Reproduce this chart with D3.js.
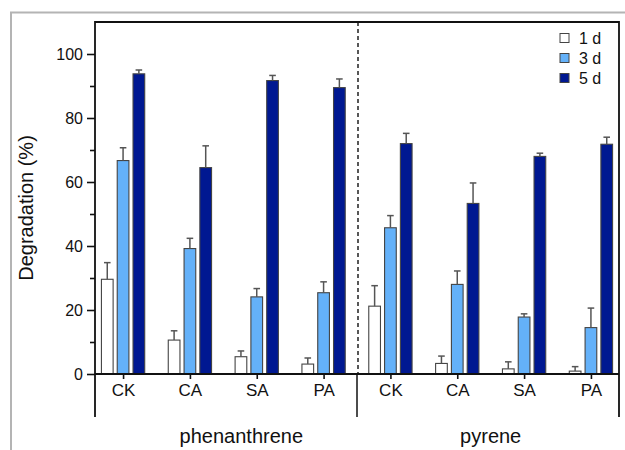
<!DOCTYPE html>
<html>
<head>
<meta charset="utf-8">
<script src="https://cdn.jsdelivr.net/npm/d3@7"></script>
<style>
  html, body { margin: 0; padding: 0; background: #fff; }
  svg { display: block; font-family: "Liberation Sans", Arial, sans-serif; }
</style>
</head>
<body>
<svg id="chart" width="625" height="450"></svg>
<script>
// ---- data ----
const compounds = ["phenanthrene", "pyrene"];
const treatments = ["CK", "CA", "SA", "PA"];
const series = ["1 d", "3 d", "5 d"];
const colors = ["#ffffff", "#64b1f9", "#001891"];
// mean values [compound][treatment] per series
const day1 = [[29.6, 10.6, 5.4, 3.1], [21.2, 3.3, 1.6, 0.9]];
const day3 = [[66.7, 39.2, 24.1, 25.4], [45.7, 28.0, 17.8, 14.5]];
const day5 = [[93.8, 64.5, 91.7, 89.5], [72.0, 53.3, 68.0, 71.8]];
// standard deviations (upper error bar length)
const err1 = [[5.2, 2.9, 1.8, 1.9], [6.4, 2.3, 2.2, 1.4]];
const err3 = [[4.0, 3.2, 2.6, 3.4], [3.8, 4.2, 1.0, 6.1]];
const err5 = [[1.2, 6.8, 1.6, 2.7], [3.2, 6.4, 1.0, 2.2]];
const yTicks = [0, 20, 40, 60, 80, 100];
const yMinorTicks = [10, 30, 50, 70, 90];

const means = [day1, day3, day5];
const errs = [err1, err3, err5];

const rows = [];
compounds.forEach((c, ci) => treatments.forEach((t, ti) => {
  series.forEach((s, si) => rows.push({
    key: c + "|" + t, compound: c, treatment: t, series: s, si: si,
    value: means[si][ci][ti], err: errs[si][ci][ti]
  }));
}));
const groupKeys = [];
compounds.forEach(c => treatments.forEach(t => groupKeys.push(c + "|" + t)));

// ---- layout ----
const svg = d3.select("#chart");
const L = 95, R = 619, T = 22, B = 374, Bsep = 417;

const x = d3.scalePoint().domain(groupKeys).range([L, R]).padding(0.42);
const xs = d3.scaleBand().domain(series).range([-23.7, 23.7]).paddingInner(0.26).paddingOuter(0.13);
const y = d3.scaleLinear().domain([0, 110]).range([B, T]);

// outer gray frame
svg.append("path")
  .attr("d", `M11,450 V12.5 H625`)
  .attr("fill", "none").attr("stroke", "#b4b4b4").attr("stroke-width", 2);

// bars
const g = svg.append("g");
g.selectAll("rect.bar").data(rows).join("rect")
  .attr("class", "bar")
  .attr("x", d => x(d.key) + xs(d.series))
  .attr("width", xs.bandwidth())
  .attr("y", d => y(d.value))
  .attr("height", d => y(0) - y(d.value))
  .attr("fill", d => colors[d.si])
  .attr("stroke", "#444").attr("stroke-width", 1.1);

// error bars
const eb = g.selectAll("g.err").data(rows).join("g").attr("class", "err")
  .attr("stroke", "#555").attr("stroke-width", 1.5);
eb.append("line")
  .attr("x1", d => x(d.key) + xs(d.series) + xs.bandwidth() / 2)
  .attr("x2", d => x(d.key) + xs(d.series) + xs.bandwidth() / 2)
  .attr("y1", d => y(d.value))
  .attr("y2", d => y(d.value + d.err));
eb.append("line")
  .attr("x1", d => x(d.key) + xs(d.series) + xs.bandwidth() / 2 - 3.3)
  .attr("x2", d => x(d.key) + xs(d.series) + xs.bandwidth() / 2 + 3.3)
  .attr("y1", d => y(d.value + d.err))
  .attr("y2", d => y(d.value + d.err));

// dashed separator
const sepX = (x(compounds[0] + "|" + treatments[3]) + x(compounds[1] + "|" + treatments[0])) / 2 + 1;
svg.append("line")
  .attr("x1", sepX).attr("x2", sepX).attr("y1", T).attr("y2", B)
  .attr("stroke", "#111").attr("stroke-width", 1.4).attr("stroke-dasharray", "4,3");

// y axis
const yAxis = svg.append("g").attr("transform", `translate(${L},0)`)
  .call(d3.axisLeft(y).tickValues(yTicks).tickSize(8).tickPadding(4));
yAxis.select(".domain").remove();
yAxis.selectAll("line").attr("stroke", "#111").attr("stroke-width", 1.6);
yAxis.selectAll("text").attr("font-size", 16).attr("fill", "#111");
svg.append("g").attr("transform", `translate(${L},0)`)
  .call(d3.axisLeft(y).tickValues(yMinorTicks).tickSize(5).tickFormat(""))
  .call(a => a.select(".domain").remove())
  .selectAll("line").attr("stroke", "#111").attr("stroke-width", 1.6);

// x axis
const xAxis = svg.append("g").attr("transform", `translate(0,${B})`)
  .call(d3.axisBottom(x).tickSize(5).tickPadding(5).tickFormat(k => k.split("|")[1]));
xAxis.select(".domain").remove();
xAxis.selectAll("line").attr("stroke", "#111").attr("stroke-width", 1.6);
xAxis.selectAll("text").attr("font-size", 17).attr("fill", "#111");

// frame lines
const frame = svg.append("g").attr("stroke", "#111").attr("stroke-width", 1.8).attr("fill", "none");
frame.append("path").attr("d", `M${L},${Bsep} V${T} H${R} V${Bsep}`);
frame.append("line").attr("x1", L).attr("x2", R).attr("y1", B).attr("y2", B);
frame.append("line").attr("x1", sepX - 1).attr("x2", sepX - 1).attr("y1", B).attr("y2", Bsep)
  .attr("stroke-width", 1.5);

// compound labels
const compShift = [18, 0];
svg.selectAll("text.comp").data(compounds).join("text")
  .attr("class", "comp")
  .attr("x", (c, i) => (x(c + "|" + treatments[0]) + x(c + "|" + treatments[3])) / 2 + compShift[i])
  .attr("y", 443)
  .attr("text-anchor", "middle")
  .attr("font-size", 20).attr("fill", "#111")
  .text(c => c);

// y title
svg.append("text")
  .attr("transform", `translate(33,${208}) rotate(-90)`)
  .attr("text-anchor", "middle")
  .attr("font-size", 20).attr("fill", "#111")
  .text("Degradation (%)");

// legend
const lg = svg.append("g").attr("transform", "translate(560,38)");
const li = lg.selectAll("g").data(series).join("g")
  .attr("transform", (d, i) => `translate(0,${i * 20})`);
li.append("rect").attr("x", 0).attr("y", -4.5).attr("width", 9).attr("height", 9)
  .attr("fill", (d, i) => colors[i]).attr("stroke", "#444").attr("stroke-width", 1);
li.append("text").attr("x", 19).attr("y", 5.8)
  .attr("font-size", 16).attr("fill", "#111")
  .text(d => d);
</script>
</body>
</html>
